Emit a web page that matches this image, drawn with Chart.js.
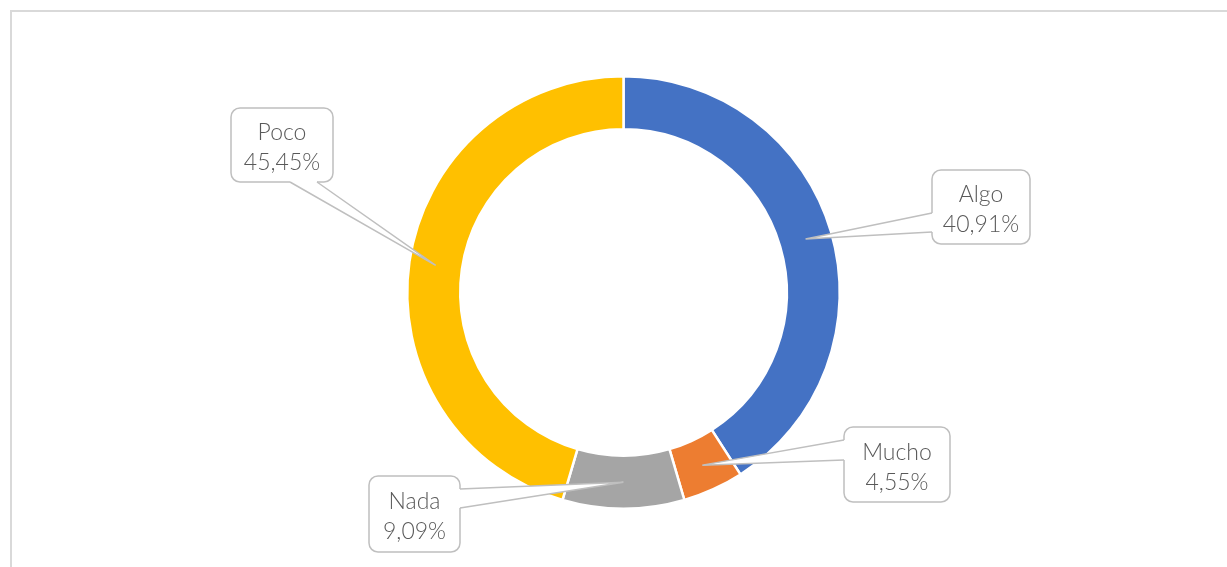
<!DOCTYPE html>
<html>
<head>
<meta charset="utf-8">
<script src="https://cdn.jsdelivr.net/npm/chart.js@4.4.1/dist/chart.umd.min.js"></script>
<style>
  html, body { margin: 0; padding: 0; background: #fff; overflow: hidden; }
  #frame { position: absolute; left: 10px; top: 10px; width: 1240px; height: 600px;
           border: 2px solid #d9d9d9; box-sizing: border-box; }
  #donut { position: absolute; left: 0; top: 0; }
</style>
</head>
<body>
<div id="frame"></div>
<canvas id="donut" width="1227" height="567"></canvas>
<script>
// Datos
const categorias = ['Algo', 'Mucho', 'Nada', 'Poco'];
const porcentajes = [40.91, 4.55, 9.09, 45.45];
const colores = ['#4472C4', '#ED7D31', '#A5A5A5', '#FFC000'];

// Cajas de las etiquetas (x, y, ancho, alto) y de qué lado sale la flecha
const callouts = [
  { box: [932, 170, 98, 74],  side: 'left',   base: [213, 232] },
  { box: [844, 427, 106, 75], side: 'left',   base: [440, 460] },
  { box: [369, 476, 91, 76],  side: 'right',  base: [489, 508] },
  { box: [231, 108, 102, 74], side: 'bottom', base: [290, 317] }
];

const fmt = v => v.toFixed(2).replace('.', ',') + '%';

function roundRect(ctx, x, y, w, h, r) {
  ctx.beginPath();
  ctx.moveTo(x + r, y);
  ctx.arcTo(x + w, y, x + w, y + h, r);
  ctx.arcTo(x + w, y + h, x, y + h, r);
  ctx.arcTo(x, y + h, x, y, r);
  ctx.arcTo(x, y, x + w, y, r);
  ctx.closePath();
}

const calloutPlugin = {
  id: 'callouts',
  afterDatasetsDraw(chart) {
    const ctx = chart.ctx;
    const meta = chart.getDatasetMeta(0);
    ctx.save();
    ctx.strokeStyle = '#bfbfbf';
    ctx.lineWidth = 1.5;
    callouts.forEach((c, i) => {
      const tip = meta.data[i].getCenterPoint();
      const [x, y, w, h] = c.box;
      let p1, p2, q1, q2;
      if (c.side === 'left') {
        p1 = [x, c.base[0]]; p2 = [x, c.base[1]];
        q1 = [x + 3, c.base[0]]; q2 = [x + 3, c.base[1]];
      } else if (c.side === 'right') {
        p1 = [x + w, c.base[0]]; p2 = [x + w, c.base[1]];
        q1 = [x + w - 3, c.base[0]]; q2 = [x + w - 3, c.base[1]];
      } else {
        p1 = [c.base[0], y + h]; p2 = [c.base[1], y + h];
        q1 = [c.base[0], y + h - 3]; q2 = [c.base[1], y + h - 3];
      }
      // caja
      roundRect(ctx, x, y, w, h, 9);
      ctx.fillStyle = '#ffffff';
      ctx.fill();
      ctx.stroke();
      // flecha
      ctx.beginPath();
      ctx.moveTo(q1[0], q1[1]);
      ctx.lineTo(p1[0], p1[1]);
      ctx.lineTo(tip.x, tip.y);
      ctx.lineTo(p2[0], p2[1]);
      ctx.lineTo(q2[0], q2[1]);
      ctx.closePath();
      ctx.fill();
      ctx.beginPath();
      ctx.moveTo(p1[0], p1[1]);
      ctx.lineTo(tip.x, tip.y);
      ctx.lineTo(p2[0], p2[1]);
      ctx.stroke();
      // texto
      ctx.fillStyle = '#595959';
      ctx.font = '300 23px Lato';
      ctx.textAlign = 'center';
      ctx.textBaseline = 'middle';
      const cx = x + w / 2, cy = y + h / 2;
      ctx.fillText(categorias[i], cx, cy - 12);
      ctx.fillText(fmt(porcentajes[i]), cx, cy + 18);
    });
    ctx.restore();
  }
};

new Chart(document.getElementById('donut'), {
  type: 'doughnut',
  data: {
    labels: categorias,
    datasets: [{
      data: porcentajes,
      backgroundColor: colores,
      borderColor: '#ffffff',
      borderWidth: 2.5
    }]
  },
  options: {
    responsive: false,
    animation: false,
    cutout: '75.5%',
    layout: { padding: { left: 20, right: 0, top: 75, bottom: 57 } },
    plugins: {
      legend: { display: false },
      tooltip: { enabled: false }
    }
  },
  plugins: [calloutPlugin]
});
</script>
</body>
</html>
